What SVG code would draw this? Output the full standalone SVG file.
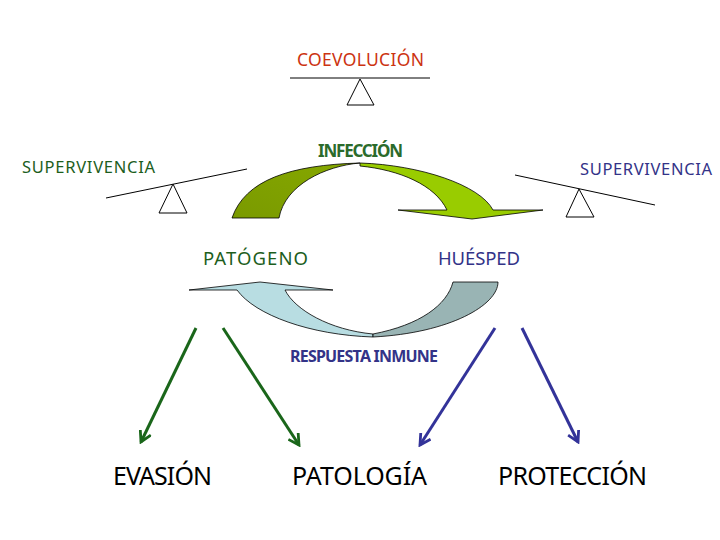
<svg xmlns="http://www.w3.org/2000/svg" width="720" height="540" viewBox="0 0 720 540">
<style>
text{font-family:"Noto Sans","Open Sans","DejaVu Sans",sans-serif}
.beam{stroke:#000;stroke-width:1;fill:none}
.fulcrum{stroke:#000;stroke-width:1;fill:#fff}
.band{stroke:#000;stroke-width:0.8;stroke-linejoin:round}
.g{fill:#1d5e1d}
.b{fill:#333388}
.big{font-size:25px;fill:#000}
.conn-g{stroke:#1a661a;stroke-width:3;fill:none}
.conn-b{stroke:#333399;stroke-width:3;fill:none}
</style>
<defs>
<marker id="ag" viewBox="0 0 12 12" refX="10" refY="6" markerWidth="14" markerHeight="14" markerUnits="userSpaceOnUse" orient="auto">
<path d="M1,1 L10,6 L1,11" fill="none" stroke="#1a661a" stroke-width="2.4"/>
</marker>
<marker id="ab" viewBox="0 0 12 12" refX="10" refY="6" markerWidth="14" markerHeight="14" markerUnits="userSpaceOnUse" orient="auto">
<path d="M1,1 L10,6 L1,11" fill="none" stroke="#333399" stroke-width="2.4"/>
</marker>
<linearGradient id="dg" x1="0" y1="1" x2="1" y2="0">
<stop offset="0" stop-color="#7a9a00"/>
<stop offset="1" stop-color="#86a800"/>
</linearGradient>
</defs>
<rect width="720" height="540" fill="#fff"/>

<g id="coevolucion">
<text x="297" y="66" font-size="17.5" fill="#cc3311" textLength="127">COEVOLUCIÓN</text>
<line class="beam" x1="290" y1="78" x2="430" y2="78"/>
<polygon class="fulcrum" points="360,79 347,105 374,105"/>
</g>

<g id="supervivencia-patogeno">
<text class="g" x="22" y="173" font-size="16.5" textLength="133">SUPERVIVENCIA</text>
<line class="beam" x1="106" y1="198" x2="247" y2="169"/>
<polygon class="fulcrum" points="173,184 159,213 187,213"/>
</g>

<g id="supervivencia-huesped">
<text class="b" x="580" y="175" font-size="16.5" textLength="132">SUPERVIVENCIA</text>
<line class="beam" x1="515" y1="175" x2="655" y2="205"/>
<polygon class="fulcrum" points="579,189 566,217 594,217"/>
</g>

<g id="infeccion">
<path class="band" fill="url(#dg)" d="M232,218 C245,180 290,165 360,163 C325,166 285,185 279,218 Z"/>
<path class="band" fill="#99cc00" d="M360,163 C420,165 480,185 493,210 L543,210 L472,219 L398,210 L447,210 C435,185 400,170 360,166 Z"/>
<text x="318" y="157" font-size="17" font-weight="bold" fill="#2b6b2b" textLength="85">INFECCIÓN</text>
</g>

<g id="patogeno">
<text class="g" x="203" y="265" font-size="18.5" textLength="105">PATÓGENO</text>
</g>

<g id="huesped">
<text class="b" x="438" y="265" font-size="18.5" textLength="82">HUÉSPED</text>
</g>

<g id="respuesta-inmune">
<path class="band" fill="#b8dde2" d="M237,290 C255,315 310,335 373,337 L373,334 C330,330 295,310 285,290 L333,290 L260,282 L189,290 Z"/>
<path class="band" fill="#99b4b4" d="M373,334 C420,325 447,305 453,282 L498,282 C498,305 450,333 373,337 Z"/>
<text x="290" y="362" font-size="16" font-weight="bold" fill="#333388" textLength="148">RESPUESTA INMUNE</text>
</g>

<g id="evasion"><text class="big" x="113" y="485" textLength="99">EVASIÓN</text></g>
<g id="patologia"><text class="big" x="292" y="485" textLength="135">PATOLOGÍA</text></g>
<g id="proteccion"><text class="big" x="498" y="485" textLength="149">PROTECCIÓN</text></g>

<g id="connectors">
<line class="conn-g" x1="196" y1="328" x2="141" y2="442" marker-end="url(#ag)"/>
<line class="conn-g" x1="223" y1="328" x2="299" y2="445" marker-end="url(#ag)"/>
<line class="conn-b" x1="495" y1="328" x2="420" y2="445" marker-end="url(#ab)"/>
<line class="conn-b" x1="522" y1="328" x2="578" y2="442" marker-end="url(#ab)"/>
</g>
</svg>
